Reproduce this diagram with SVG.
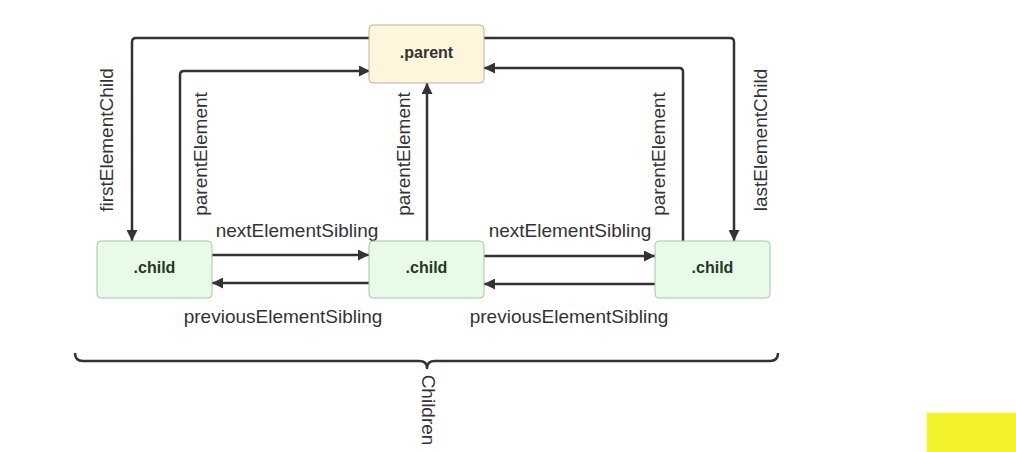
<svg xmlns="http://www.w3.org/2000/svg" width="1016" height="452" viewBox="0 0 1016 452">
<style>
.conn{fill:none;stroke:#333;stroke-width:2.5;stroke-linejoin:round}
.lbl{font-family:"Liberation Sans",Arial,sans-serif;font-size:19px;fill:#333;text-anchor:middle}
.nodetxt{font-family:"Liberation Sans",Arial,sans-serif;font-size:16px;font-weight:bold;text-anchor:middle}
.child rect{fill:#e8fbe8;stroke:#a9c4a9;stroke-width:1}
.parent rect{fill:#fdf5dc;stroke:#b8b2a0;stroke-width:1}
</style>
<defs>
<marker id="ah" viewBox="0 0 10 10" refX="10" refY="5" markerWidth="4.4" markerHeight="4.4" markerUnits="strokeWidth" orient="auto">
<path d="M0,0 L10,5 L0,10 z" fill="#333"/>
</marker>
</defs>
<rect width="1016" height="452" fill="#fff"/>
<g id="connectors">
<path class="conn" marker-end="url(#ah)" d="M370,38 H136 Q132,38 132,42 V241"/>
<path class="conn" marker-end="url(#ah)" d="M180,241 V75 Q180,71 184,71 H370"/>
<path class="conn" marker-end="url(#ah)" d="M427,241 V83"/>
<path class="conn" marker-end="url(#ah)" d="M683,241 V72 Q683,68 679,68 H484"/>
<path class="conn" marker-end="url(#ah)" d="M484,38 H730 Q734,38 734,42 V241"/>
<path class="conn" marker-end="url(#ah)" d="M212,255 H369"/>
<path class="conn" marker-end="url(#ah)" d="M369,283 H212"/>
<path class="conn" marker-end="url(#ah)" d="M484,256 H655"/>
<path class="conn" marker-end="url(#ah)" d="M655,284 H484"/>
</g>
<g id="labels">
<text class="lbl" transform="translate(113,140) rotate(-90)">firstElementChild</text>
<text class="lbl" transform="translate(207,154) rotate(-90)">parentElement</text>
<text class="lbl" transform="translate(410,154) rotate(-90)">parentElement</text>
<text class="lbl" transform="translate(665,154) rotate(-90)">parentElement</text>
<text class="lbl" transform="translate(767,140) rotate(-90)">lastElementChild</text>
<text class="lbl" x="297" y="237">nextElementSibling</text>
<text class="lbl" x="570" y="237">nextElementSibling</text>
<text class="lbl" x="283" y="323">previousElementSibling</text>
<text class="lbl" x="569" y="323">previousElementSibling</text>
</g>
<g id="parent" class="parent">
<rect x="369" y="25" width="115" height="58" rx="4"/>
<text class="nodetxt" x="426.5" y="58" fill="#333">.parent</text>
</g>
<g id="child1" class="child">
<rect x="97" y="241" width="115" height="57" rx="4"/>
<text class="nodetxt" x="154.5" y="273" fill="#223a22">.child</text>
</g>
<g id="child2" class="child">
<rect x="369" y="241" width="115" height="57" rx="4"/>
<text class="nodetxt" x="426.5" y="273" fill="#223a22">.child</text>
</g>
<g id="child3" class="child">
<rect x="655" y="241" width="115" height="57" rx="4"/>
<text class="nodetxt" x="712.5" y="273" fill="#223a22">.child</text>
</g>
<g id="brace">
<path class="conn" stroke-width="2" d="M75,353 Q75,361 83,361 H419 Q427,361 427,368 Q427,361 435,361 H770 Q778,361 778,353"/>
<text class="lbl" font-size="15" transform="translate(422,410) rotate(90)">Children</text>
</g>
<rect x="927" y="413" width="89" height="39" fill="#f2f22a"/>
</svg>
